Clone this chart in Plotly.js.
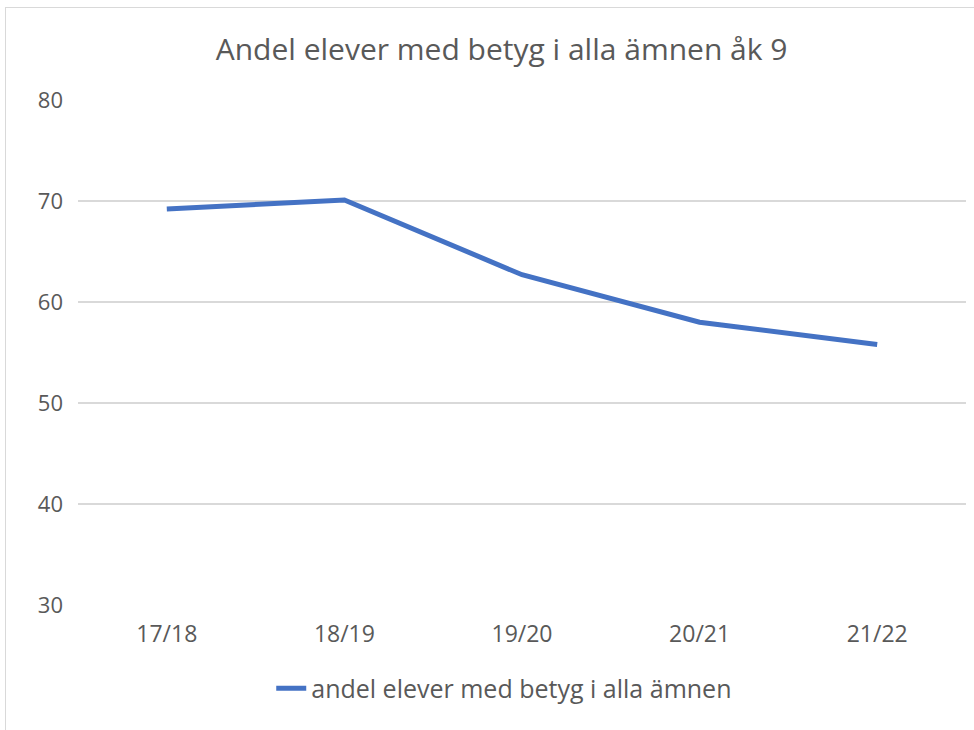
<!DOCTYPE html>
<html><head><meta charset="utf-8">
<script src="https://cdn.plot.ly/plotly-3.0.1.min.js"></script>
<style>
html,body{margin:0;padding:0;background:#fff;overflow:hidden}
#wrap{position:relative;width:974px;height:730px}
#chart{width:974px;height:730px}
#frame{position:absolute;left:5px;top:7px;width:1000px;height:800px;border:1px solid #d9d9d9;pointer-events:none;box-sizing:border-box}
</style></head>
<body><div id="wrap"><div id="chart"></div><div id="frame"></div></div>
<script>
const categories = ["17/18","18/19","19/20","20/21","21/22"];
const values = [69.2, 70.1, 62.7, 58.0, 55.8];
const seriesName = "andel elever med betyg i alla ämnen";
const chartTitle = "Andel elever med betyg i alla ämnen åk 9";
const yTicks = [30,40,50,60,70,80];

const font = "Open Sans, Noto Sans, sans-serif";
Plotly.newPlot("chart", [{
  x: categories, y: values, type: "scatter", mode: "lines", name: seriesName,
  line: {color: "#4472C4", width: 5}
}], {
  width: 974, height: 730,
  margin: {l: 78, r: 8, t: 100, b: 125},
  paper_bgcolor: "#fff", plot_bgcolor: "#fff",
  title: {text: chartTitle, font: {family: font, size: 30, color: "#595959"}, x: 0.515, xanchor: "center", y: 0.932, yanchor: "middle"},
  xaxis: {type: "category", range: [-0.5, 4.5], showgrid: false, zeroline: false, showline: false, ticks: "",
    tickfont: {family: font, size: 23, color: "#595959"}, ticklabelstandoff: 13},
  yaxis: {range: [30, 80], tickvals: yTicks, showgrid: true, gridcolor: "#d9d9d9", gridwidth: 1.5, zeroline: false, showline: false, ticks: "",
    tickfont: {family: font, size: 22, color: "#595959"}, ticklabelstandoff: 14},
  showlegend: true,
  legend: {orientation: "h", x: 0.48, xanchor: "center", y: -0.12, yanchor: "top", font: {family: font, size: 25, color: "#595959"}}
}, {displayModeBar: false, staticPlot: true});
</script></body></html>
